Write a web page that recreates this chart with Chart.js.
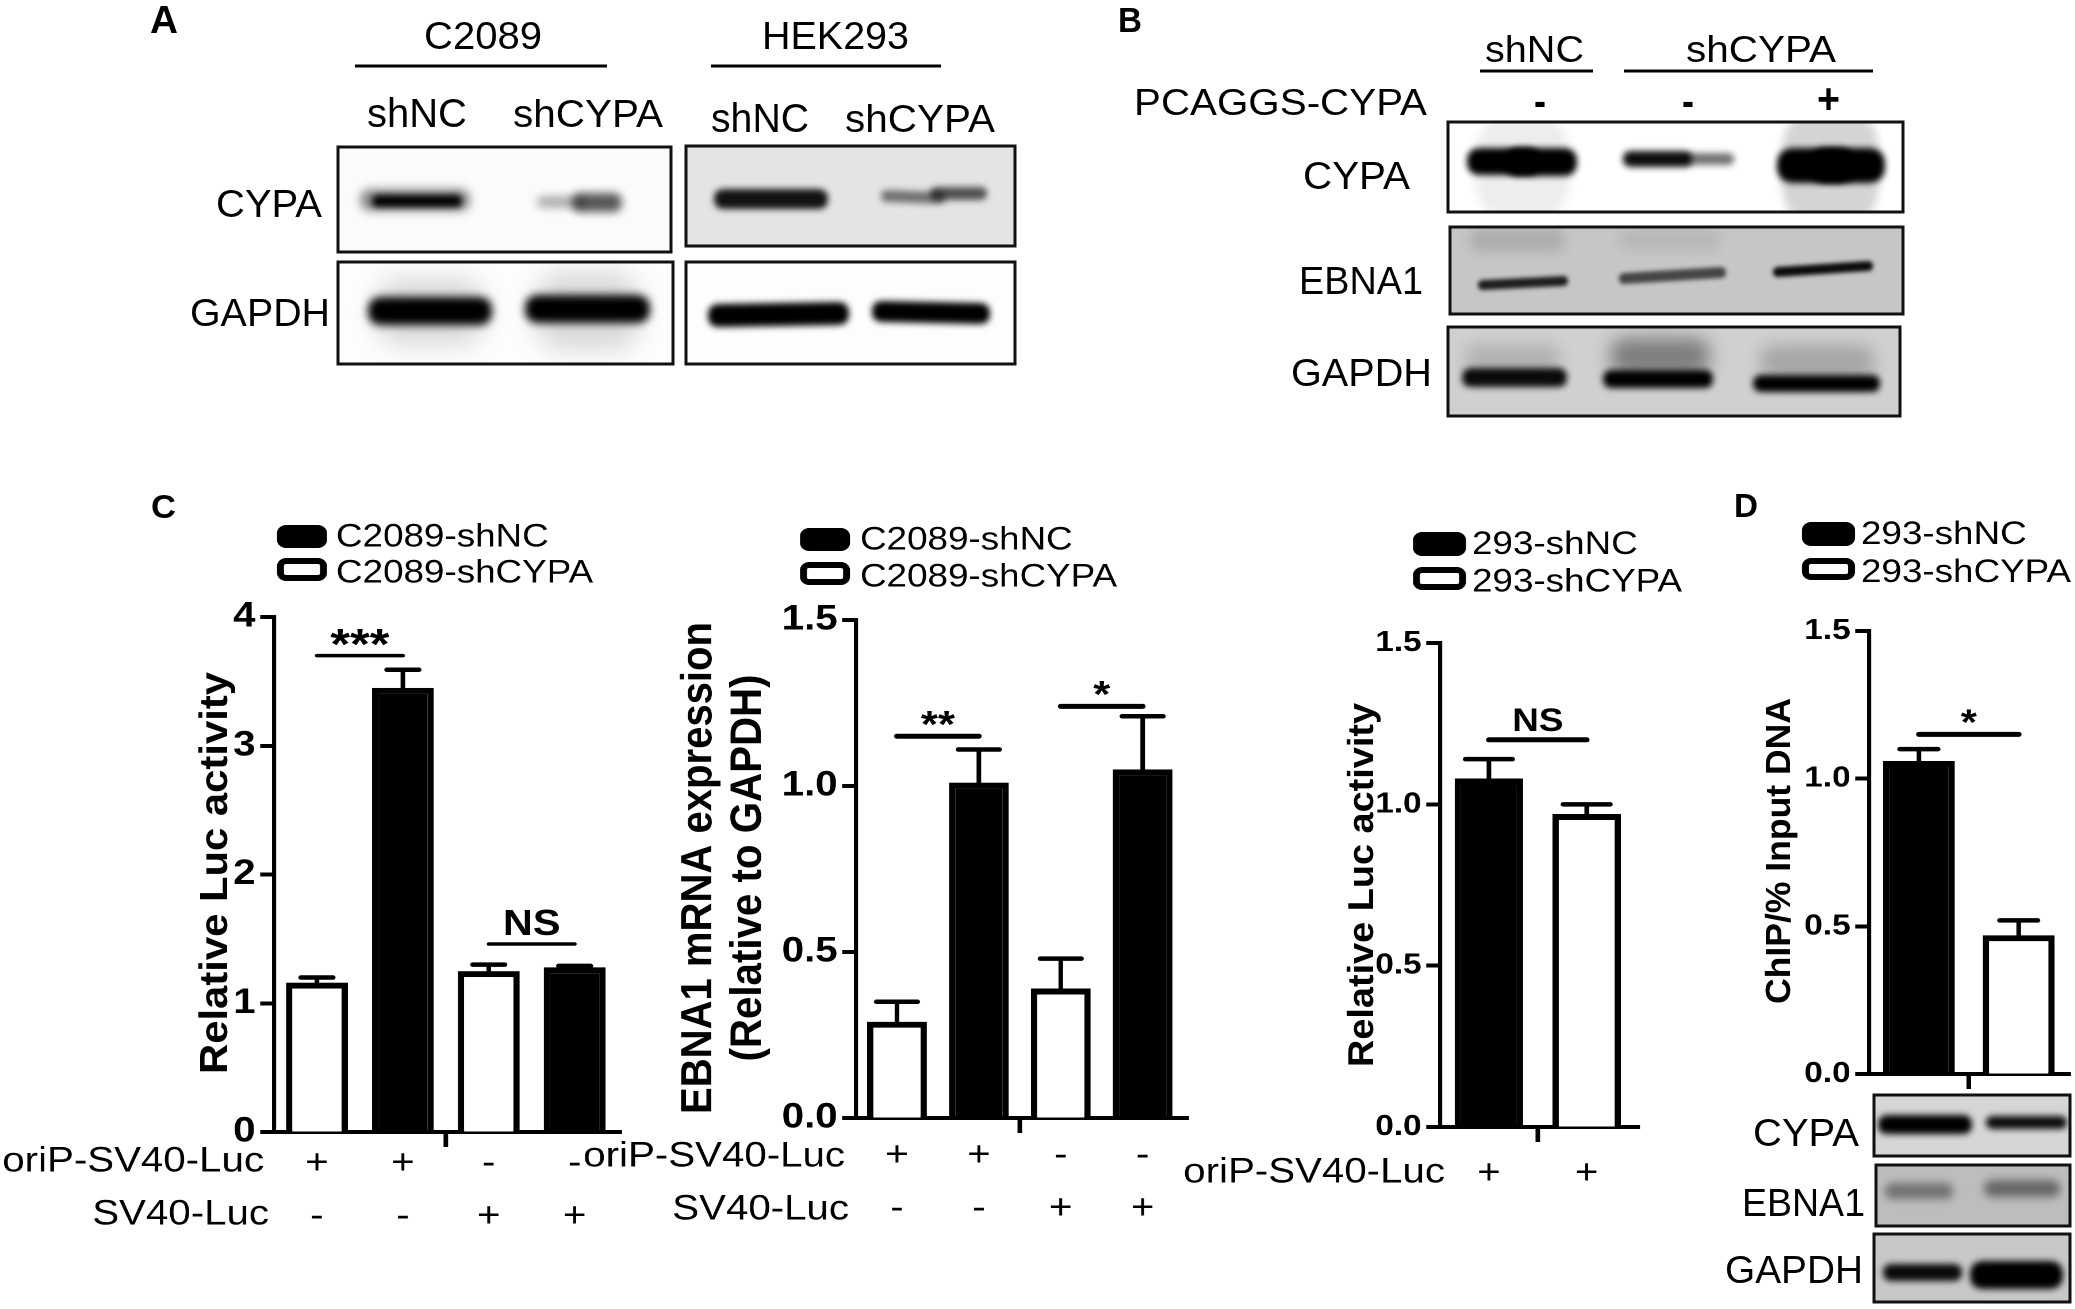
<!DOCTYPE html>
<html lang="en">
<head>
    <meta charset="UTF-8">
    <title>CYPA / EBNA1 figure</title>
    <script src="https://cdn.jsdelivr.net/npm/chart.js"></script>
    <style>
        html, body { margin: 0; padding: 0; background: #fff; }
        body { position: relative; width: 2075px; height: 1309px; overflow: hidden; }
        canvas { position: absolute; left: 0; top: 0; transform-origin: 0 0; }
    </style>
</head>
<body>
    <canvas id="figure" width="2075" height="1309"></canvas>
    <canvas id="chartC1"></canvas>
    <canvas id="chartC2"></canvas>
    <canvas id="chartC3"></canvas>
    <canvas id="chartD"></canvas>

    <script>
        // panel C, left
        const c1Labels = [['+', '-'], ['+', '-'], ['-', '+'], ['-', '+']];
        const c1ShNC = [null, 3.45, null, 1.28];
        const c1ShCYPA = [1.16, null, 1.25, null];
        const c1ErrTop = [1.20, 3.59, 1.30, 1.29];
        const c1SigFrom = [0, 2];
        const c1SigTo = [1, 3];
        const c1SigY = [3.70, 1.46];
        const c1SigText = ['***', 'NS'];

        // panel C, middle
        const c2Labels = [['+', '-'], ['+', '-'], ['-', '+'], ['-', '+']];
        const c2ShNC = [null, 1.01, null, 1.05];
        const c2ShCYPA = [0.29, null, 0.39, null];
        const c2ErrTop = [0.35, 1.11, 0.48, 1.21];
        const c2SigFrom = [0, 2];
        const c2SigTo = [1, 3];
        const c2SigY = [1.15, 1.24];
        const c2SigText = ['**', '*'];

        // panel C, right
        const c3Labels = ['+', '+'];
        const c3ShNC = [1.08, null];
        const c3ShCYPA = [null, 0.97];
        const c3ErrTop = [1.14, 1.00];
        const c3SigFrom = [0];
        const c3SigTo = [1];
        const c3SigY = [1.20];
        const c3SigText = ['NS'];

        // panel D
        const dLabels = ['', ''];
        const dShNC = [1.06, null];
        const dShCYPA = [null, 0.47];
        const dErrTop = [1.10, 0.52];
        const dSigFrom = [0];
        const dSigTo = [1];
        const dSigY = [1.15];
        const dSigText = ['*'];

        const fullW = 2075;
        const fullH = 1309;
        // the bar panels are a little wider than tall in the original, so the canvases get stretched
        const sx = 1.15;
        const yAxisW = 90;
        const xAxisH = 120;
        const family = '"Liberation Sans", Arial, sans-serif';

        function panelMarks(cfg) {
            return {
                id: 'panelMarks',
                afterDraw(chart) {
                    const { ctx, chartArea } = chart;
                    const xs = chart.scales.x;
                    const ys = chart.scales.y;
                    ctx.save();
                    ctx.fillStyle = '#000';
                    ctx.strokeStyle = '#000';

                    // long x axis + the single middle tick
                    ctx.lineWidth = 4;
                    ctx.beginPath();
                    ctx.moveTo(chartArea.right, chartArea.bottom);
                    ctx.lineTo(cfg.axisEnd / sx, chartArea.bottom);
                    ctx.stroke();
                    const mid = (chartArea.left + chartArea.right) / 2;
                    ctx.beginPath();
                    ctx.moveTo(mid, chartArea.bottom);
                    ctx.lineTo(mid, chartArea.bottom + 15);
                    ctx.stroke();

                    // error bars, upper half only
                    cfg.errTop.forEach((v, i) => {
                        const x = xs.getPixelForValue(i);
                        const y = ys.getPixelForValue(v);
                        const base = ys.getPixelForValue(cfg.series[0][i] ?? cfg.series[1][i]);
                        ctx.lineWidth = 4;
                        ctx.beginPath();
                        ctx.moveTo(x, y);
                        ctx.lineTo(x, base + 2);
                        ctx.stroke();
                        ctx.lineWidth = 4.5;
                        ctx.lineCap = 'round';
                        ctx.beginPath();
                        ctx.moveTo(x - cfg.capWidth / 2 / sx, y);
                        ctx.lineTo(x + cfg.capWidth / 2 / sx, y);
                        ctx.stroke();
                        ctx.lineCap = 'butt';
                    });

                    // significance lines
                    cfg.sigText.forEach((t, i) => {
                        const y = ys.getPixelForValue(cfg.sigY[i]);
                        const x1 = xs.getPixelForValue(cfg.sigFrom[i]);
                        const x2 = xs.getPixelForValue(cfg.sigTo[i]);
                        ctx.lineWidth = cfg.sigLine;
                        ctx.lineCap = 'round';
                        ctx.beginPath();
                        ctx.moveTo(x1, y);
                        ctx.lineTo(x2, y);
                        ctx.stroke();
                        ctx.lineCap = 'butt';
                        const isNS = t === 'NS';
                        const f = isNS ? cfg.nsFont : cfg.starFont;
                        ctx.font = 'bold ' + f + 'px ' + family;
                        ctx.textAlign = 'center';
                        ctx.textBaseline = 'alphabetic';
                        const off = isNS ? -9 : 0.39 * f - 14;
                        ctx.fillText(t, (x1 + x2) / 2, y + off);
                    });

                    // legend, black series first
                    chart.data.datasets.forEach((ds, i) => {
                        const s = cfg.swatches[i];
                        const w = (s[1] - s[0]) / sx;
                        const h = s[3] - s[2];
                        ctx.beginPath();
                        ctx.roundRect(s[0] / sx + 3, s[2] + 3, w - 6, h - 6, 5);
                        ctx.fillStyle = ds.backgroundColor;
                        ctx.fill();
                        ctx.lineWidth = 6;
                        ctx.stroke();
                        ctx.fillStyle = '#000';
                        ctx.font = '32px ' + family;
                        ctx.textAlign = 'left';
                        ctx.textBaseline = 'middle';
                        ctx.fillText(ds.label, cfg.legendX / sx, (s[2] + s[3]) / 2 + 1 + i * 3);
                    });

                    // y titles, fitted to their length in the original
                    cfg.titles.forEach(t => {
                        ctx.save();
                        ctx.translate(t.x / sx, t.cy);
                        ctx.rotate(-Math.PI / 2);
                        ctx.font = 'bold ' + (t.cap / (0.716 * sx)) + 'px ' + family;
                        ctx.textAlign = 'center';
                        ctx.textBaseline = 'alphabetic';
                        ctx.scale(t.len / ctx.measureText(t.text).width, 1);
                        ctx.fillText(t.text, 0, 0);
                        ctx.restore();
                    });

                    // row names left of the + / - marks
                    ctx.font = cfg.rowFont + 'px ' + family;
                    ctx.textAlign = 'right';
                    ctx.textBaseline = 'middle';
                    cfg.rows.forEach(r => ctx.fillText(r[0], r[1] / sx, r[2]));
                    ctx.restore();
                }
            };
        }

        function drawPanel(id, cfg) {
            const canvas = document.getElementById(id);
            canvas.width = Math.round(fullW / sx);
            canvas.height = fullH;
            // fixed axis boxes, so the plot area lands exactly where the layout padding puts it
            const fixedFit = s => {
                if (s.axis === 'x') s.height = xAxisH; else s.width = yAxisW;
                s.paddingLeft = s.paddingRight = s.paddingTop = s.paddingBottom = 0;
            };
            new Chart(canvas, {
                type: 'bar',
                data: {
                    labels: cfg.labels,
                    datasets: [
                        { label: cfg.names[0], data: cfg.series[0], backgroundColor: '#000', borderColor: '#000' },
                        { label: cfg.names[1], data: cfg.series[1], backgroundColor: '#fff', borderColor: '#000' }
                    ]
                },
                options: {
                    responsive: false,
                    animation: false,
                    devicePixelRatio: 2,
                    barPercentage: cfg.barPct,
                    categoryPercentage: 1,
                    borderWidth: { top: 6, left: 5.5, right: 5.5, bottom: 0 },
                    borderSkipped: false,
                    layout: {
                        padding: {
                            left: cfg.area[0] / sx - yAxisW,
                            right: (fullW - cfg.area[1]) / sx,
                            top: cfg.area[2],
                            bottom: fullH - cfg.area[3] - xAxisH
                        }
                    },
                    plugins: { legend: { display: false }, tooltip: { enabled: false } },
                    scales: {
                        x: {
                            stacked: true,
                            afterFit: fixedFit,
                            grid: { drawOnChartArea: false, drawTicks: false },
                            border: { color: '#000', width: 4 },
                            ticks: {
                                color: '#000',
                                padding: cfg.xPad,
                                autoSkip: false,
                                maxRotation: 0,
                                minRotation: 0,
                                font: { family: family, size: cfg.rowFont, lineHeight: cfg.rowLine }
                            }
                        },
                        y: {
                            stacked: true,
                            min: 0,
                            max: cfg.yMax,
                            afterFit: fixedFit,
                            grid: { drawOnChartArea: false, tickLength: 12, tickWidth: 4, tickColor: '#000' },
                            border: { color: '#000', width: 3.6 },
                            ticks: {
                                color: '#000',
                                padding: 4,
                                stepSize: cfg.yStep,
                                font: { family: family, size: cfg.tickFont, weight: 'bold' },
                                callback: v => cfg.yStep === 1 ? String(v) : v.toFixed(1)
                            }
                        }
                    }
                },
                plugins: [panelMarks(cfg)]
            });
        }

        drawPanel('chartC1', {
            labels: c1Labels, names: ['C2089-shNC', 'C2089-shCYPA'], series: [c1ShNC, c1ShCYPA],
            errTop: c1ErrTop, sigFrom: c1SigFrom, sigTo: c1SigTo, sigY: c1SigY, sigText: c1SigText,
            area: [274, 618, 617, 1132], axisEnd: 622, barPct: 0.72, yMax: 4, yStep: 1, tickFont: 35,
            capWidth: 32, sigLine: 3.5, nsFont: 36, starFont: 44,
            swatches: [[277, 327, 525, 548], [277, 327, 558, 581]], legendX: 336,
            titles: [{ text: 'Relative Luc activity', x: 227, cy: 873, len: 402, cap: 28 }],
            rows: [['oriP-SV40-Luc', 264, 1162], ['SV40-Luc', 269, 1215]],
            rowFont: 35, rowLine: 1.52, xPad: 5
        });

        drawPanel('chartC2', {
            labels: c2Labels, names: ['C2089-shNC', 'C2089-shCYPA'], series: [c2ShNC, c2ShCYPA],
            errTop: c2ErrTop, sigFrom: c2SigFrom, sigTo: c2SigTo, sigY: c2SigY, sigText: c2SigText,
            area: [856, 1184, 620, 1118], axisEnd: 1189, barPct: 0.73, yMax: 1.5, yStep: 0.5, tickFont: 35,
            capWidth: 41, sigLine: 5, nsFont: 36, starFont: 38,
            swatches: [[800, 850, 528, 551], [800, 850, 562, 585]], legendX: 860,
            titles: [
                { text: 'EBNA1 mRNA expression', x: 711, cy: 868, len: 492, cap: 31 },
                { text: '(Relative to GAPDH)', x: 761, cy: 868, len: 387, cap: 31 }
            ],
            rows: [['oriP-SV40-Luc', 845, 1157], ['SV40-Luc', 849, 1210]],
            rowFont: 35, rowLine: 1.52, xPad: 11
        });

        drawPanel('chartC3', {
            labels: c3Labels, names: ['293-shNC', '293-shCYPA'], series: [c3ShNC, c3ShCYPA],
            errTop: c3ErrTop, sigFrom: c3SigFrom, sigTo: c3SigTo, sigY: c3SigY, sigText: c3SigText,
            area: [1440, 1636, 643, 1127], axisEnd: 1640, barPct: 0.70, yMax: 1.5, yStep: 0.5, tickFont: 29,
            capWidth: 47, sigLine: 5, nsFont: 32, starFont: 38,
            swatches: [[1413, 1466, 532, 556], [1413, 1466, 567, 590]], legendX: 1472,
            titles: [{ text: 'Relative Luc activity', x: 1373, cy: 885, len: 364, cap: 26 }],
            rows: [['oriP-SV40-Luc', 1445, 1173]],
            rowFont: 35, rowLine: 1.52, xPad: 20
        });

        drawPanel('chartD', {
            labels: dLabels, names: ['293-shNC', '293-shCYPA'], series: [dShNC, dShCYPA],
            errTop: dErrTop, sigFrom: dSigFrom, sigTo: dSigTo, sigY: dSigY, sigText: dSigText,
            area: [1869, 2069, 631, 1074], axisEnd: 2071, barPct: 0.72, yMax: 1.5, yStep: 0.5, tickFont: 29,
            capWidth: 38, sigLine: 5, nsFont: 32, starFont: 36,
            swatches: [[1802, 1855, 522, 546], [1802, 1855, 558, 580]], legendX: 1861,
            titles: [{ text: 'ChIP/% Input DNA', x: 1790, cy: 851, len: 306, cap: 25 }],
            rows: [],
            rowFont: 30, rowLine: 1.2, xPad: 0
        });

        // western blot strips and the text around them: not chart data, just the figure's artwork
        const blots = [
            { box: [338, 147, 671, 252], fill: '#fbfbfb', bands: [
                [360, 470, 189, 211, 0.45, 0, 5], [372, 462, 195, 207, 1, 0, 3],
                [537, 585, 196, 208, 0.3, 0, 4], [572, 622, 193, 212, 0.65, 0, 4]
            ] },
            { box: [686, 146, 1015, 246], fill: '#e4e4e4', bands: [
                [714, 828, 189, 209, 0.92, 0, 3], [881, 945, 191, 203, 0.5, -1, 3], [930, 987, 187, 200, 0.65, 0, 3]
            ] },
            { box: [338, 262, 673, 364], fill: '#fdfdfd', bands: [
                [375, 485, 278, 345, 0.14, 0, 12], [535, 640, 272, 350, 0.14, 0, 12],
                [368, 492, 297, 325, 1, 0, 4], [525, 650, 295, 323, 1, 0, 4]
            ] },
            { box: [686, 262, 1015, 364], fill: '#fdfdfd', bands: [
                [708, 849, 303, 326, 1, 1, 3], [872, 990, 302, 323, 1, -1, 3]
            ] },
            { box: [1448, 122, 1903, 212], fill: '#ffffff', bands: [
                [1475, 1570, 120, 215, 0.07, 0, 5], [1781, 1880, 115, 220, 0.17, 0, 4],
                [1467, 1540, 148, 175, 1, 0, 3], [1505, 1577, 148, 176, 1, 0, 3],
                [1623, 1692, 151, 167, 0.95, 0, 3], [1685, 1734, 153, 165, 0.55, 0, 3],
                [1777, 1855, 148, 183, 1, 0, 3], [1810, 1885, 148, 183, 1, 0, 3]
            ] },
            { box: [1450, 227, 1903, 314], fill: '#c6c6c6', bands: [
                [1470, 1565, 228, 252, 0.12, 0, 6], [1620, 1720, 228, 250, 0.07, 0, 6],
                [1478, 1568, 278, 288, 0.85, 2, 2], [1619, 1726, 270, 281, 0.65, 3, 2], [1773, 1873, 264, 274, 0.95, 3, 2]
            ] },
            { box: [1448, 327, 1900, 416], fill: '#d0d0d0', bands: [
                [1610, 1710, 338, 374, 0.4, 0, 9], [1465, 1560, 345, 372, 0.15, 0, 8], [1760, 1875, 345, 378, 0.2, 0, 8],
                [1462, 1567, 368, 387, 0.95, 0, 3], [1603, 1713, 370, 388, 1, 0, 3], [1753, 1880, 375, 392, 1, 0, 3]
            ] },
            { box: [1874, 1095, 2070, 1156], fill: '#d6d6d6', bands: [
                [1878, 1972, 1115, 1134, 1, 0, 3], [1986, 2067, 1116, 1129, 0.95, 0, 3]
            ] },
            { box: [1876, 1165, 2070, 1226], fill: '#bdbdbd', bands: [
                [1885, 1953, 1183, 1199, 0.4, 0, 4], [1984, 2060, 1180, 1197, 0.45, 0, 4]
            ] },
            { box: [1874, 1234, 2070, 1302], fill: '#c8c8c8', bands: [
                [1883, 1962, 1264, 1281, 0.95, 0, 3], [1970, 2063, 1261, 1289, 1, 0, 3]
            ] }
        ];

        const rules = [[355, 607, 66], [711, 941, 66], [1480, 1593, 71], [1624, 1873, 71]];

        // text, left, right, baseline, cap height, bold
        const figureTexts = [
            ['A', 150, 178, 33, 28, true], ['B', 1118, 1142, 32, 25, true],
            ['C', 151, 176, 518, 24, true], ['D', 1734, 1758, 517, 24, true],
            ['C2089', 424, 542, 49, 28, false], ['HEK293', 762, 909, 49, 28, false],
            ['shNC', 367, 467, 127, 29, false], ['shCYPA', 513, 663, 127, 28, false],
            ['shNC', 711, 809, 132, 29, false], ['shCYPA', 845, 995, 132, 28, false],
            ['CYPA', 216, 322, 217, 28, false], ['GAPDH', 190, 330, 326, 28, false],
            ['shNC', 1485, 1584, 62, 27, false], ['shCYPA', 1686, 1836, 62, 27, false],
            ['PCAGGS-CYPA', 1134, 1427, 115, 27, false],
            ['-', 1534, 1546, 116, 30, true], ['-', 1682, 1694, 116, 30, true], ['+', 1817, 1840, 113, 30, true],
            ['CYPA', 1303, 1410, 189, 28, false], ['EBNA1', 1299, 1423, 294, 28, false], ['GAPDH', 1291, 1432, 386, 28, false],
            ['CYPA', 1753, 1859, 1146, 28, false], ['EBNA1', 1742, 1865, 1216, 28, false], ['GAPDH', 1725, 1863, 1283, 28, false]
        ];

        function bandPath(ctx, x1, x2, y1, y2, t) {
            const r = Math.min((y2 - y1) / 2, (x2 - x1) / 4);
            const m = (y1 + y2) / 2;
            ctx.beginPath();
            ctx.moveTo(x1 + r, y1 + t);
            ctx.lineTo(x2 - r, y1 - t);
            ctx.quadraticCurveTo(x2, y1 - t, x2, m - t);
            ctx.quadraticCurveTo(x2, y2 - t, x2 - r, y2 - t);
            ctx.lineTo(x1 + r, y2 + t);
            ctx.quadraticCurveTo(x1, y2 + t, x1, m + t);
            ctx.quadraticCurveTo(x1, y1 + t, x1 + r, y1 + t);
            ctx.closePath();
        }

        function drawFigure() {
            const ctx = document.getElementById('figure').getContext('2d');
            ctx.fillStyle = '#fff';
            ctx.fillRect(0, 0, fullW, fullH);

            blots.forEach(b => {
                const [x1, y1, x2, y2] = b.box;
                ctx.save();
                ctx.beginPath();
                ctx.rect(x1, y1, x2 - x1, y2 - y1);
                ctx.clip();
                ctx.fillStyle = b.fill;
                ctx.fillRect(x1, y1, x2 - x1, y2 - y1);
                b.bands.forEach(([bx1, bx2, by1, by2, alpha, tilt, blur]) => {
                    ctx.filter = 'blur(' + blur + 'px)';
                    ctx.fillStyle = 'rgba(0,0,0,' + alpha + ')';
                    bandPath(ctx, bx1, bx2, by1, by2, tilt);
                    ctx.fill();
                });
                ctx.restore();
                ctx.strokeStyle = '#111';
                ctx.lineWidth = 3;
                ctx.strokeRect(x1, y1, x2 - x1, y2 - y1);
            });

            ctx.fillStyle = '#000';
            rules.forEach(r => ctx.fillRect(r[0], r[2] - 1.5, r[1] - r[0], 3));

            figureTexts.forEach(([text, x1, x2, base, cap, bold]) => {
                ctx.save();
                ctx.font = (bold ? 'bold ' : '') + (cap / 0.716) + 'px ' + family;
                ctx.textAlign = 'left';
                ctx.textBaseline = 'alphabetic';
                const w = ctx.measureText(text).width;
                ctx.translate(x1, base);
                ctx.scale((x2 - x1) / w, 1);
                ctx.fillText(text, 0, 0);
                ctx.restore();
            });
        }

        drawFigure();
        ['chartC1', 'chartC2', 'chartC3', 'chartD'].forEach(id => {
            document.getElementById(id).style.transform = 'scaleX(' + sx + ')';
        });
    </script>
</body>
</html>
